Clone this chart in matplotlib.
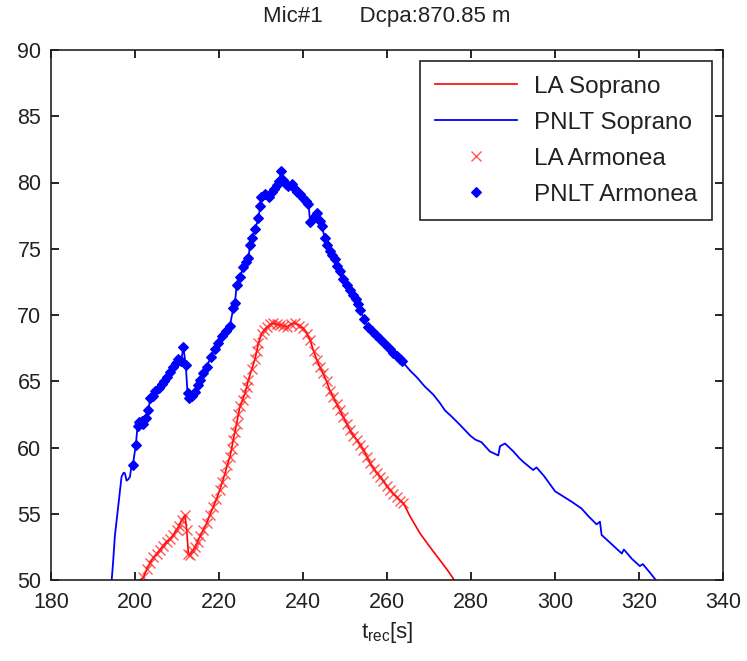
import matplotlib
matplotlib.use("Agg")
import matplotlib.pyplot as plt

# ---- data ----
arm_pnlt_t = [199.5, 200.2, 200.6, 201.0, 201.6, 202.0, 202.5, 203.2, 203.6, 204.2,
              204.8, 205.6, 206.4, 207.0, 207.5, 208.3, 209.1, 209.7, 210.3, 211.0,
              211.5, 212.1, 212.5, 212.9, 213.5, 214.3, 215.0, 215.5, 216.3, 217.1,
              218.0, 219.0, 219.8, 220.6, 221.6, 222.6, 223.4, 223.8, 224.2, 225.0,
              225.8, 226.5, 227.0, 227.4, 227.8, 228.6, 229.4, 229.8, 230.0, 231.0,
              231.8, 232.5, 233.2, 233.7, 234.3, 234.8, 235.3, 236.0, 236.5, 237.3,
              238.0, 238.5, 239.3, 240.1, 240.8, 241.3, 241.7, 242.5, 243.3, 244.0,
              244.5, 245.2, 245.8, 246.4, 247.0, 247.6, 248.2, 248.8, 249.6, 250.4,
              251.2, 252.0, 252.6, 253.2, 253.6, 254.5, 255.5, 256.5, 257.4, 258.3,
              259.5, 260.7, 261.5, 262.3, 263.1, 263.5]
arm_pnlt = [58.7, 60.2, 61.6, 61.9, 62.0, 61.8, 62.2, 62.8, 63.7, 63.9,
            64.3, 64.5, 64.8, 65.0, 65.3, 65.7, 66.1, 66.4, 66.7, 66.5,
            67.6, 66.2, 64.1, 63.7, 63.9, 64.2, 64.7, 65.1, 65.6, 66.1,
            66.8, 67.4, 67.9, 68.4, 68.8, 69.2, 70.5, 70.9, 72.3, 72.9,
            73.6, 74.0, 74.3, 75.3, 75.8, 76.5, 77.3, 78.2, 78.9, 79.1,
            78.9, 79.3, 79.5, 79.8, 80.1, 80.9, 80.2, 79.9, 79.7, 79.9,
            79.5, 79.3, 79.1, 78.8, 78.6, 78.4, 77.0, 77.4, 77.7, 77.1,
            76.7, 75.8, 75.3, 74.8, 74.5, 74.2, 73.7, 73.3, 72.7, 72.3,
            71.9, 71.5, 71.2, 70.8, 70.4, 69.7, 69.1, 68.8, 68.5, 68.2,
            67.8, 67.4, 67.1, 66.9, 66.7, 66.5]

arm_la_t = [202.0, 202.8, 203.6, 204.4, 205.2, 206.0, 206.7, 207.5, 208.3, 209.1,
            209.9, 210.5, 211.1, 211.9, 212.3, 212.7, 213.1, 213.7, 214.3, 214.9,
            215.5, 216.3, 217.1, 217.8, 218.6, 219.4, 220.2, 220.8, 221.4, 222.0,
            222.6, 223.0, 223.4, 223.8, 224.2, 224.6, 225.0, 225.6, 226.2, 226.6,
            227.0, 227.8, 228.6, 229.0, 229.4, 230.2, 230.8, 231.4, 232.2, 232.9,
            233.7, 234.5, 235.3, 236.1, 237.1, 238.1, 239.1, 240.1, 240.9, 241.7,
            242.5, 243.3, 244.0, 244.8, 245.6, 246.4, 247.2, 248.0, 248.8, 249.6,
            250.4, 251.2, 252.0, 252.8, 253.6, 254.4, 255.2, 256.0, 256.8, 257.6,
            258.4, 259.1, 259.9, 260.7, 261.5, 262.3, 263.1, 263.9]
arm_la = [50.2, 50.8, 51.3, 51.7, 52.0, 52.3, 52.6, 52.9, 53.1, 53.4,
          53.8, 54.1, 54.5, 54.9, 53.8, 52.0, 51.9, 52.2, 52.5, 52.9,
          53.3, 53.8, 54.3, 54.9, 55.5, 56.1, 56.8, 57.4, 58.0, 58.7,
          59.3, 59.9, 60.6, 61.2, 61.8, 62.5, 63.1, 63.6, 64.1, 64.6,
          65.1, 65.9, 66.7, 67.3, 67.9, 68.6, 68.9, 69.1, 69.3, 69.4,
          69.3, 69.25, 69.2, 69.1, 69.3, 69.4, 69.2, 69.0, 68.6, 68.1,
          67.3, 66.6, 66.1, 65.6, 65.0, 64.3, 63.8, 63.3, 62.8, 62.3,
          61.8, 61.3, 60.9, 60.6, 60.2, 59.8, 59.3, 58.8, 58.4, 58.05,
          57.8, 57.5, 57.1, 56.8, 56.5, 56.3, 56.0, 55.8]

# Soprano extra portions (outside the Armonea range)
sop_pnlt_pre_t = [194.45, 194.8, 195.2, 195.8, 196.3, 196.8, 197.3, 197.6, 198.0, 198.4, 198.8, 199.2]
sop_pnlt_pre = [50.0, 51.4, 53.3, 55.0, 56.4, 57.8, 58.1, 58.05, 57.5, 57.6, 57.8, 58.7]
sop_pnlt_post_t = [263.9, 265.5, 267.1, 269.0, 271.0, 272.5, 273.8, 275.5, 277.4, 279.8,
                   281.0, 282.5, 284.5, 286.5, 286.9, 288.1, 290.1, 291.5, 292.5, 294.8,
                   295.6, 297.5, 300.0, 302.0, 304.0, 306.3, 308.0, 309.9, 310.7, 311.1,
                   313.5, 315.9, 316.4, 318.3, 320.2, 320.9, 322.5, 324.0]
sop_pnlt_post = [66.4, 65.8, 65.3, 64.6, 64.0, 63.4, 62.8, 62.3, 61.7, 60.9,
                 60.6, 60.4, 59.7, 59.4, 60.1, 60.3, 59.7, 59.2, 58.9, 58.3,
                 58.5, 57.8, 56.7, 56.3, 55.9, 55.4, 54.8, 54.2, 54.4, 53.4,
                 52.7, 52.0, 52.3, 51.6, 51.05, 51.2, 50.6, 50.0]
sop_la_pre_t = [201.2]
sop_la_pre = [50.0]
sop_la_post_t = [265.5, 267.9, 270.2, 272.6, 274.5, 276.0]
sop_la_post = [54.8, 53.5, 52.5, 51.5, 50.7, 50.0]

sop_pnlt_t = sop_pnlt_pre_t + arm_pnlt_t + sop_pnlt_post_t
sop_pnlt = sop_pnlt_pre + arm_pnlt + sop_pnlt_post
sop_la_t = sop_la_pre_t + arm_la_t + sop_la_post_t
sop_la = sop_la_pre + arm_la + sop_la_post

xticks = [180, 200, 220, 240, 260, 280, 300, 320, 340]
yticks = [50, 55, 60, 65, 70, 75, 80, 85, 90]
title = "Mic#1      Dcpa:870.85 m"
legend_labels = ["LA Soprano", "PNLT Soprano", "LA Armonea", "PNLT Armonea"]

# ---- plot ----
plt.rcParams['font.family'] = ['Liberation Sans', 'DejaVu Sans']
plt.rcParams['font.size'] = 15
plt.rcParams['mathtext.fontset'] = 'custom'
plt.rcParams['mathtext.rm'] = 'Liberation Sans'
plt.rcParams['mathtext.it'] = 'Liberation Sans'

txt_col = '#222222'
fig = plt.figure(figsize=(7.47, 6.61), dpi=100)
ax = fig.add_axes([51 / 747, 81 / 661, 672 / 747, 530 / 661])

ax.plot(sop_la_t, sop_la, color='#ff0000', lw=1.2, label=legend_labels[0])
ax.plot(sop_pnlt_t, sop_pnlt, color='#0000ff', lw=1.3, label=legend_labels[1])
ax.plot(arm_la_t, arm_la, ls='none', marker='x', color='#ff2020', ms=7, mew=1.0,
        alpha=0.75, label=legend_labels[2])
ax.plot(arm_pnlt_t, arm_pnlt, ls='none', marker='D', color='#0000ff', ms=5.5,
        mew=0.8, label=legend_labels[3])

ax.set_xlim(180, 340)
ax.set_ylim(50, 90)
ax.set_xticks(xticks)
ax.set_yticks(yticks)
ax.tick_params(direction='in', top=True, right=True, length=6, width=1.2,
               colors='black', labelcolor=txt_col, labelsize=15.5)
ax.tick_params(axis='x', pad=9)
ax.tick_params(axis='y', pad=7)
for s in ax.spines.values():
    s.set_linewidth(1.2)
    s.set_color('#222222')

ax.set_title(title, fontsize=16, pad=20, color=txt_col)
ax.set_xlabel(r"t$_{\rm rec}$[s]", fontsize=16, labelpad=5, color=txt_col)

leg = ax.legend(loc='upper right', frameon=True, fancybox=False, fontsize=17.5,
                edgecolor='#222222', framealpha=1, borderaxespad=0.45,
                handlelength=3.4, handletextpad=0.7, labelspacing=0.58,
                markerscale=1.0, borderpad=0.6)
leg.get_frame().set_linewidth(1.2)
for t in leg.get_texts():
    t.set_color(txt_col)

fig.savefig("out.png", dpi=100)
